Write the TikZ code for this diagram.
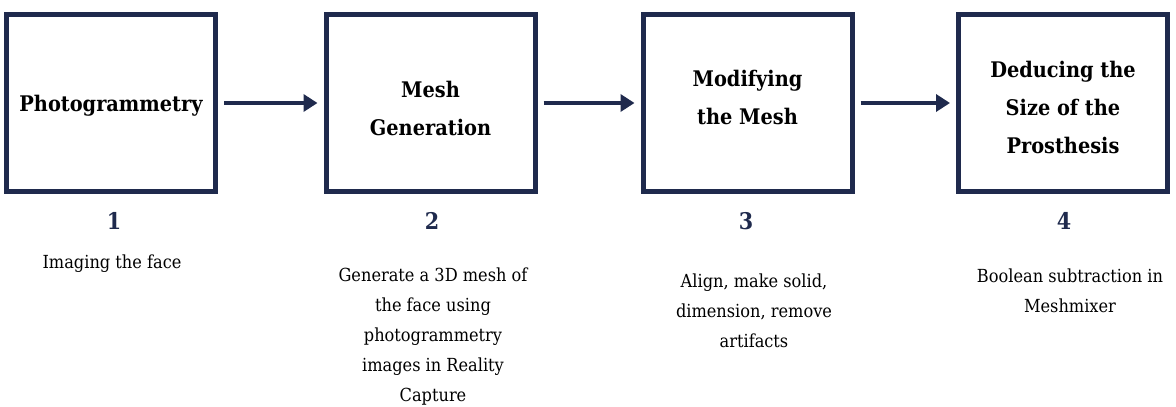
\documentclass[tikz,border=0pt]{standalone}
\usepackage{fontspec}
\setmainfont{DejaVu Serif Condensed}
\usetikzlibrary{arrows.meta}
\definecolor{navy}{RGB}{31,42,77}
\tikzset{
  stagebox/.style={draw=navy, line width=5pt, minimum width=209pt, minimum height=177pt},
  stagetitle/.style={align=center, font=\fontsize{21.5}{38}\selectfont\bfseries},
  stagenum/.style={text=navy, font=\fontsize{23}{28}\selectfont\bfseries},
  stagedesc/.style={align=center, font=\fontsize{18}{30}\selectfont},
  flow/.style={draw=navy, line width=4.5pt, -{Triangle[length=14pt,width=17pt]},
    shorten <=6pt, shorten >=6pt}
}

\begin{document}
\begin{tikzpicture}[x=1pt, y=-1pt]
    \useasboundingbox (0,0) rectangle (1176,407);
    % the four stages
    \node[stagebox] (photo) at (111,103) {};
    \node[stagebox] (mesh) at (430.5,103) {};
    \node[stagebox] (modify) at (747.5,103) {};
    \node[stagebox] (size) at (1063,103) {};
    \node[stagetitle, yshift=-3pt] (t1) at (photo) {Photogrammetry};
    \node[stagetitle, yshift=-5pt] (t2) at (mesh) {Mesh\\Generation};
    \node[stagetitle, yshift=6pt] (t3) at (modify) {Modifying\\the Mesh};
    \node[stagetitle, yshift=-4pt] (t4) at (size) {Deducing the\\Size of the\\Prosthesis};
    \draw[flow] (photo) -- (mesh);
    \draw[flow] (mesh) -- (modify);
    \draw[flow] (modify) -- (size);
    % numbers
    \node[stagenum] (n1) at (114,221) {1};
    \node[stagenum] (n2) at (432,221) {2};
    \node[stagenum] (n3) at (746,221) {3};
    \node[stagenum] (n4) at (1064,221) {4};
    % what each stage does
    \node[stagedesc] (d1) at (112,264) {Imaging the face};
    \node[stagedesc] (d2) at (433,337) {Generate a 3D mesh of\\the face using\\photogrammetry\\images in Reality\\Capture};
    \node[stagedesc] (d3) at (754,311) {Align, make solid,\\dimension, remove\\artifacts};
    \node[stagedesc] (d4) at (1070,291) {Boolean subtraction in\\Meshmixer};
\end{tikzpicture}
\end{document}
